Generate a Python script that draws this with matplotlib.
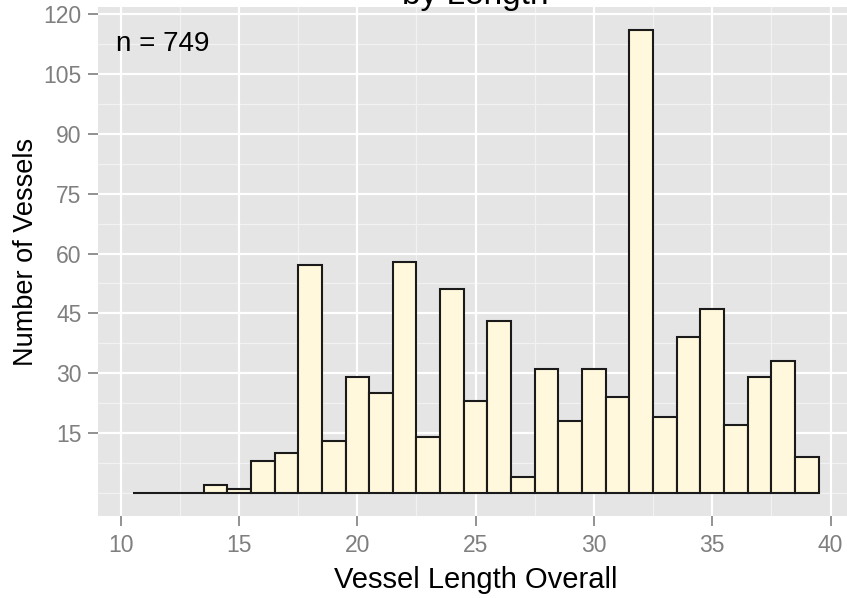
import matplotlib
matplotlib.use("Agg")
import matplotlib.pyplot as plt
import numpy as np

# histogram bins (centres, width 1) and vessel counts
lengths = [11, 12, 13, 14, 15, 16, 17, 18, 19, 20, 21, 22, 23, 24, 25,
           26, 27, 28, 29, 30, 31, 32, 33, 34, 35, 36, 37, 38, 39]
counts = [0, 0, 0, 2, 1, 8, 10, 57, 13, 29, 25, 58, 14, 51, 23,
          43, 4, 31, 18, 31, 24, 116, 19, 39, 46, 17, 29, 33, 9]
x_ticks = [10, 15, 20, 25, 30, 35, 40]
y_ticks = [15, 30, 45, 60, 75, 90, 105, 120]
n_label = "n = 749"

plt.rcParams['font.family'] = ['Liberation Sans', 'DejaVu Sans']

fig = plt.figure(figsize=(8.47, 5.98), dpi=100)
ax = fig.add_axes([0.116, 0.1376, 0.8911, 0.8502])
ax.set_facecolor('#E5E5E5')

# ggplot-ish limits (5% expansion)
xmin, xmax = 10.5, 39.5
pad = 0.05 * (xmax - xmin)
ax.set_xlim(xmin - pad, xmax + pad)
ymax = max(counts)
ax.set_ylim(-0.05 * ymax, ymax * 1.05)

# grid: minor first, then major
for v in np.arange(0, 130, 7.5):
    if v % 15 != 0 or v == 0:
        ax.axhline(v, color='#F2F2F2', lw=0.9, zorder=0)
for v in np.arange(7.5, 45, 2.5):
    if v % 5 != 0:
        ax.axvline(v, color='#F2F2F2', lw=0.9, zorder=0)
for v in y_ticks:
    ax.axhline(v, color='white', lw=1.6, zorder=0.5)
for v in x_ticks:
    ax.axvline(v, color='white', lw=1.6, zorder=0.5)

ax.bar(lengths, counts, width=1.0, color='#FFF8DC', edgecolor='#1a1a1a',
       linewidth=1.5, zorder=2)

ax.text(9.8, 112.6, n_label, fontsize=20, ha='left', va='center', color='black')

ax.set_xticks(x_ticks)
ax.set_yticks(y_ticks)
ax.tick_params(axis='both', colors='#7F7F7F', labelsize=16.5, length=7,
               width=1.2, pad=5)
ax.tick_params(axis='x', pad=6)
for s in ax.spines.values():
    s.set_visible(False)

ax.set_xlabel('Vessel Length Overall', fontsize=21, labelpad=7)
ax.set_ylabel('Number of Vessels', fontsize=19.5)
ax.yaxis.set_label_coords(-0.079, 0.519)

fig.text(0.561, 1 - 4 / 598, 'by Length', fontsize=24, ha='center',
         va='baseline', color='black')

fig.savefig('out.png', dpi=100)
